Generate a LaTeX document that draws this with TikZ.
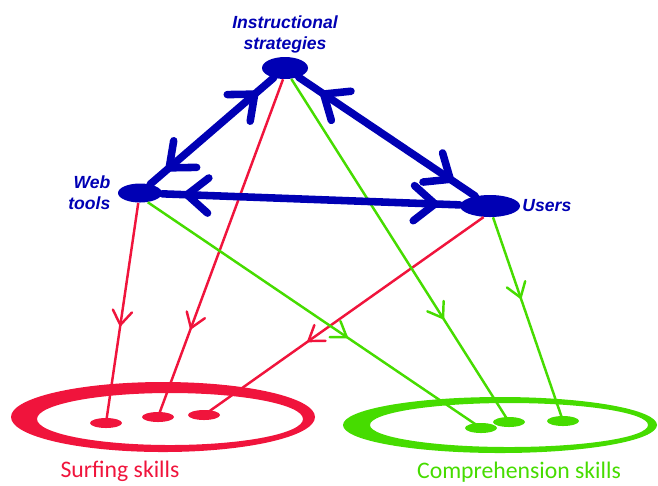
\documentclass[tikz,border=0pt]{standalone}
\usepackage{fontspec}
\setmainfont{Liberation Sans}
\newfontfamily\handfont{Carlito}
\usetikzlibrary{shapes.geometric, arrows.meta, positioning, decorations.markings}

\definecolor{toolblue}{RGB}{0,0,180}
\definecolor{surfred}{RGB}{240,20,60}
\definecolor{compgreen}{RGB}{70,220,0}

\begin{document}
\begin{tikzpicture}[x=0.02cm, y=-0.02cm,
  hub/.style={ellipse, fill=toolblue, inner sep=0pt},
  tag/.style={font=\bfseries\itshape, text=toolblue, align=center, inner sep=1pt},
  dot/.style={ellipse, fill=#1, minimum width=0.64cm, minimum height=0.2cm, inner sep=0pt},
  skill/.style={font=\handfont\fontsize{13.5}{16}\selectfont, text=#1, inner sep=1pt},
  link/.style={draw=toolblue, line width=4.3pt, line cap=round,
    decoration={markings,
      mark=at position #1 with {\arrowreversed{Straight Barb[length=12pt, width=20pt, round]}},
      mark=at position -#1 with {\arrow{Straight Barb[length=12pt, width=20pt, round]}}},
    postaction={decorate}},
  link/.default=12pt,
  feed/.style 2 args={draw=#1, line width=1.4pt,
    decoration={markings, mark=at position #2 with {\arrow{Straight Barb[length=8pt, width=11pt, round]}}},
    postaction={decorate}}]

  \useasboundingbox (0,0) rectangle (658,485);

  % the two skill sets
  \fill[surfred, even odd rule] (163,417) ellipse [x radius=152, y radius=35]
    (170,419) ellipse [x radius=133, y radius=26];
  \fill[compgreen, even odd rule] (500,425) ellipse [x radius=157, y radius=28]
    (509,425) ellipse [x radius=139, y radius=22];

  \node[skill=surfred] (surf) at (120,471) {Surfing skills};
  \node[skill=compgreen] (comp) at (519,472) {Comprehension skills};

  % the three hubs
  \node[hub, minimum width=0.92cm, minimum height=0.44cm] (is) at (285,68) {};
  \node[hub, minimum width=0.88cm, minimum height=0.38cm] (wt) at (140,193) {};
  \node[hub, minimum width=1.2cm, minimum height=0.44cm] (users) at (490,206) {};

  \node[tag, above=1pt of is] (istag) {Instructional\\strategies};
  \node[tag, left=3pt of wt, align=right] (wttag) {Web\\tools};
  \node[tag, right=0pt of users] (userstag) {Users};

  % skill dots
  \node[dot=surfred] (s1) at (106,423) {};
  \node[dot=surfred] (s2) at (158,417) {};
  \node[dot=surfred] (s3) at (204,415) {};
  \node[dot=compgreen] (c1) at (481,428) {};
  \node[dot=compgreen] (c2) at (509,422) {};
  \node[dot=compgreen] (c3) at (563,421) {};

  \draw[feed={surfred}{0.56}] (wt.-100) -- (s1.center);
  \draw[feed={surfred}{0.74}] (is.-100) -- (s2.center);
  \draw[feed={surfred}{0.63}] (users.-120) -- (s3.center);
  \draw[feed={compgreen}{0.60}] (wt.-50) -- (c1.center);
  \draw[feed={compgreen}{0.70}] (is.-60) -- (c2.center);
  \draw[feed={compgreen}{0.40}] (users.-75) -- (c3.center);

  \draw[link] (is) -- (wt);
  \draw[link=15pt] (is) -- (users);
  \draw[link] (wt) -- (users);
\end{tikzpicture}
\end{document}
